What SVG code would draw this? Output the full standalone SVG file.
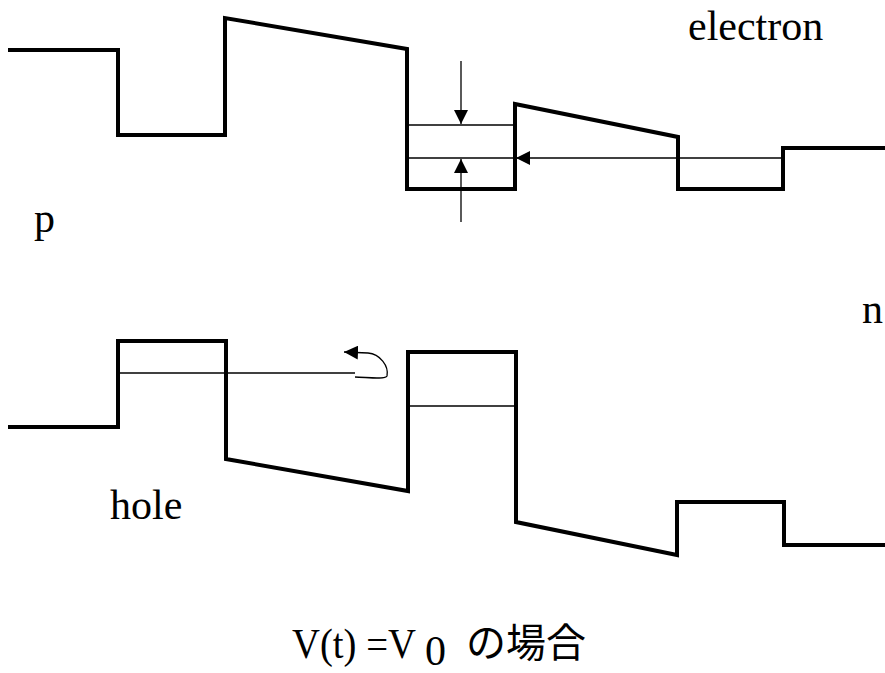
<svg xmlns="http://www.w3.org/2000/svg" width="885" height="673" viewBox="0 0 885 673">
<style>
.band{fill:none;stroke:#000;stroke-width:4;stroke-linejoin:miter;stroke-linecap:square}
.thin{fill:none;stroke:#000;stroke-width:1.3}
.lbl{font-family:"Liberation Serif","Times New Roman",serif;font-size:42px;fill:#000}
.cjk{font-family:"Noto Sans CJK JP",sans-serif;font-size:40px;fill:#000}
</style>
<defs>
<marker id="ah" viewBox="0 0 10 10" refX="10" refY="5" markerWidth="14" markerHeight="14" markerUnits="userSpaceOnUse" orient="auto">
<path d="M0,0 L10,5 L0,10 z" fill="#000"/>
</marker>
</defs>
<rect width="885" height="673" fill="#fff"/>
<g id="conduction-band">
<polyline class="band" points="10,50 118,50 118,135 225,135 225,18 407,49 407,189 515,189 515,104 678,137 678,189 783,189 783,148 885,148"/>
</g>
<g id="valence-band">
<polyline class="band" points="10,427 118,427 118,341 226,341 226,459 408,491 408,352 516,352 516,522 677,555 677,502 784,502 784,545 885,545"/>
</g>
<g id="electron-levels">
<line class="thin" x1="408" y1="125" x2="514" y2="125"/>
<line class="thin" x1="408" y1="158" x2="514" y2="158"/>
</g>
<g id="hole-levels">
<line class="thin" x1="118" y1="373" x2="355" y2="373"/>
<line class="thin" x1="408" y1="406" x2="516" y2="406"/>
</g>
<g id="connectors">
<line class="thin" x1="461" y1="61" x2="461" y2="124" marker-end="url(#ah)"/>
<line class="thin" x1="461" y1="222" x2="461" y2="159" marker-end="url(#ah)"/>
<line class="thin" x1="783" y1="158" x2="516" y2="158" marker-end="url(#ah)"/>
<path class="thin" d="M355,377 C365,377 385,380 387,376 C389,366 380,354 368,353 L344,352" marker-end="url(#ah)"/>
</g>
<g id="labels">
<text class="lbl" x="292" y="658" textLength="124" lengthAdjust="spacingAndGlyphs">V(t) =V</text>
<text class="lbl" x="688" y="40">electron</text>
<text class="lbl" x="34" y="232">p</text>
<text class="lbl" x="862" y="323">n</text>
<text class="lbl" x="110" y="519">hole</text>
<text class="lbl" x="425" y="665" font-size="36">0</text>
<text class="cjk" x="466" y="657">の場合</text>
</g>
</svg>
